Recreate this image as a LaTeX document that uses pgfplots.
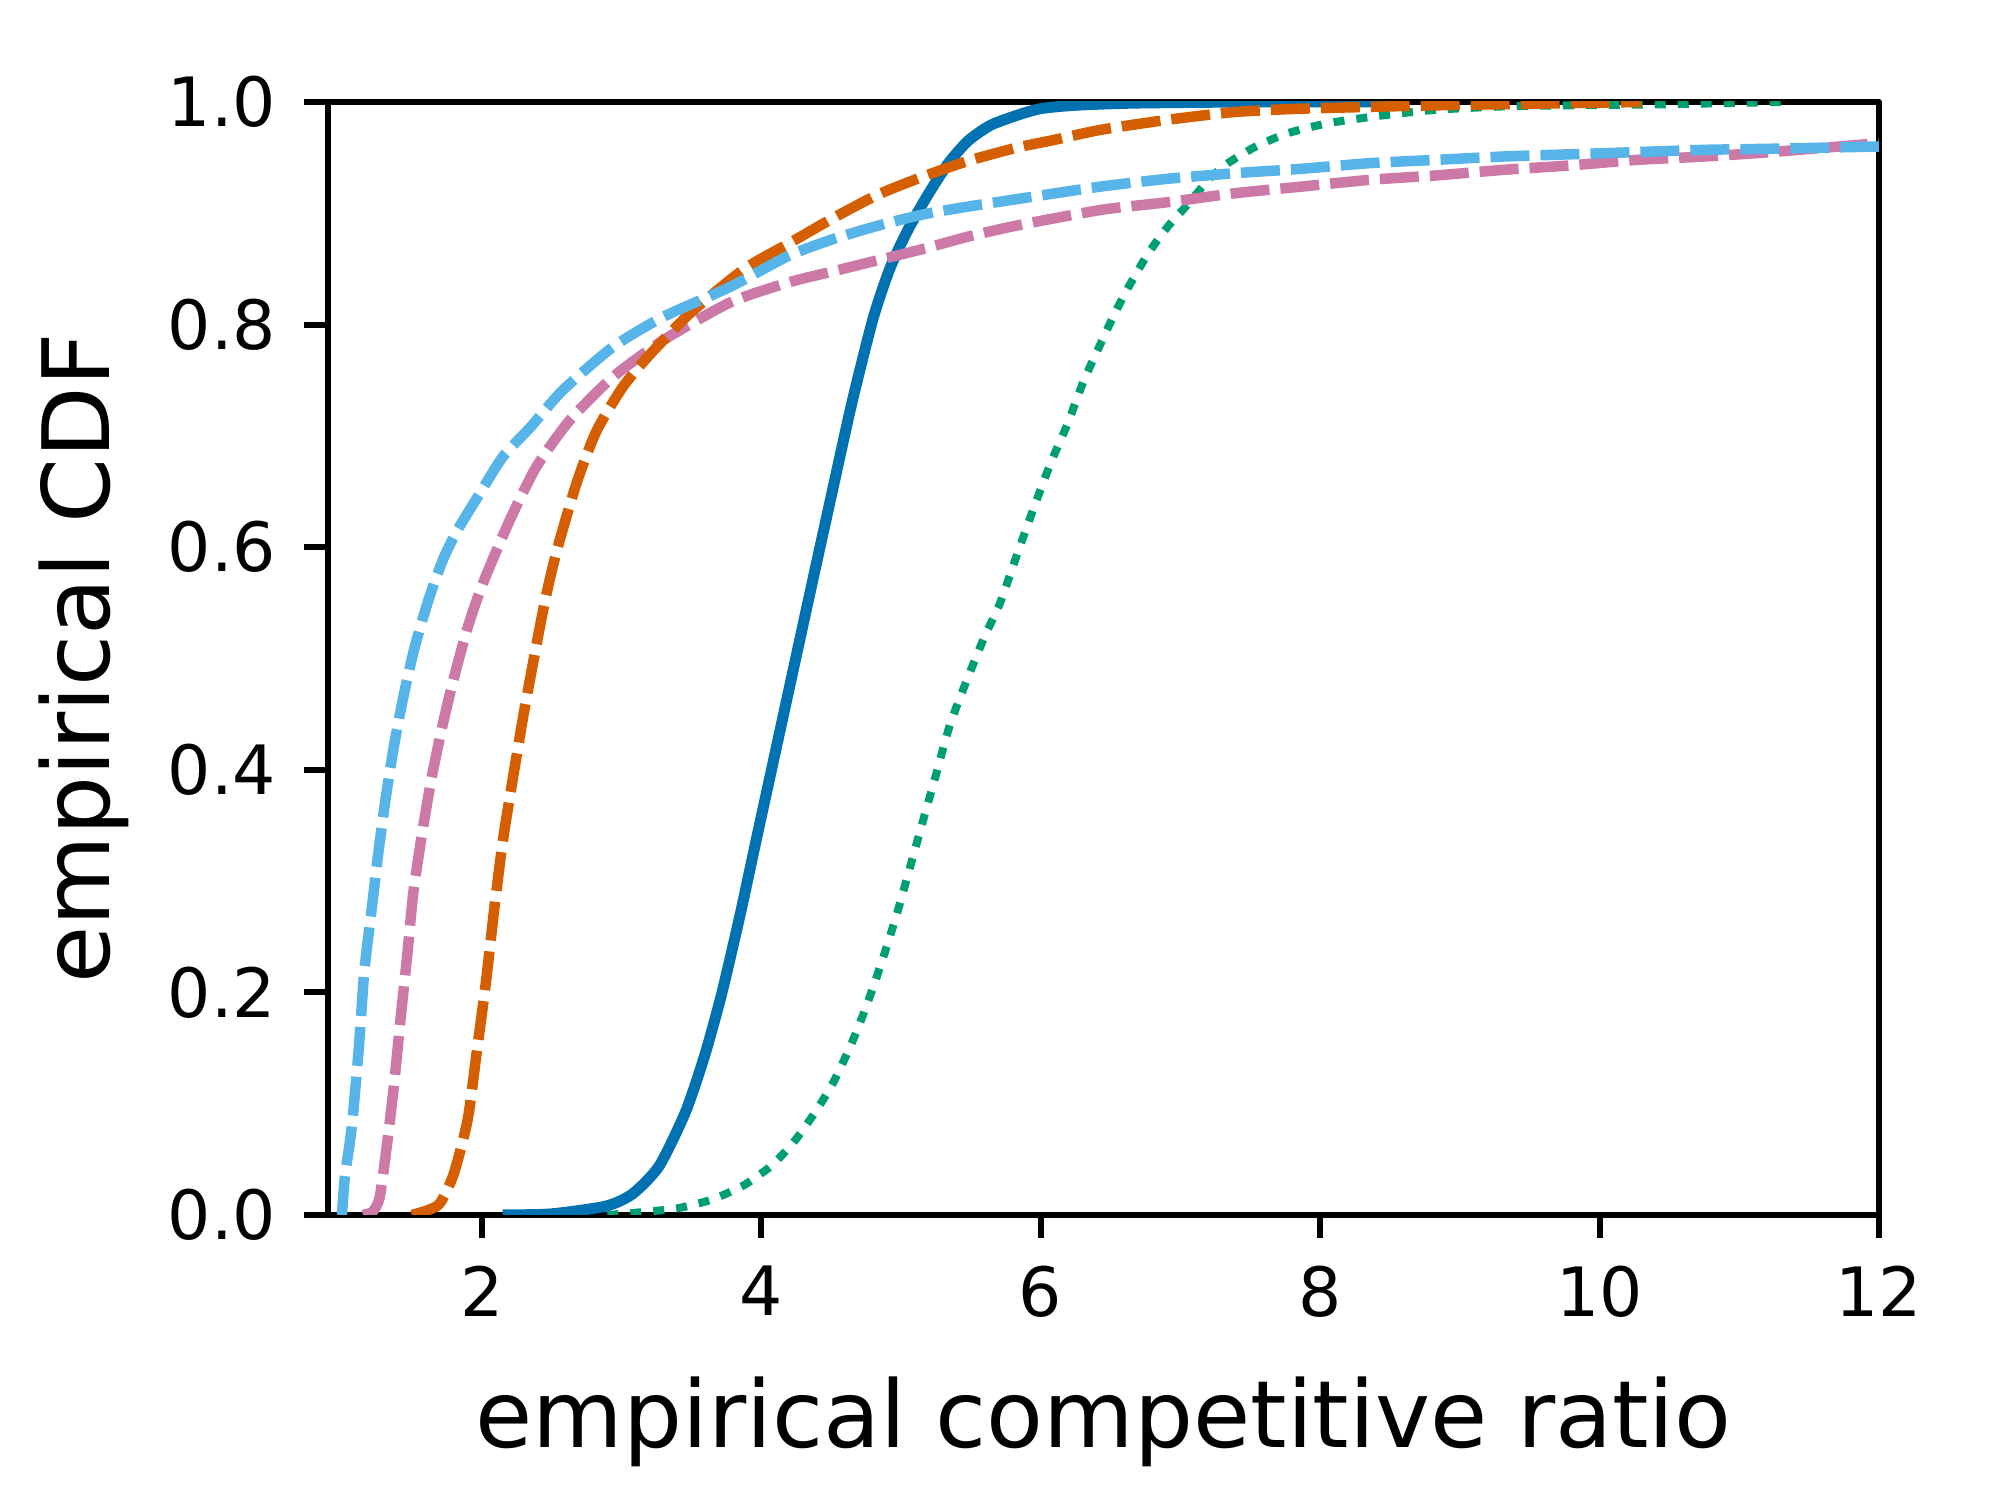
\documentclass[border=0pt]{standalone}
\usepackage{fontspec}
\setmainfont{DejaVu Sans}
\usepackage{pgfplots}
\pgfplotsset{compat=1.18}
\definecolor{cbblue}{HTML}{0072B2}
\definecolor{cborange}{HTML}{D55E00}
\definecolor{cbgreen}{HTML}{009E73}
\definecolor{cbsky}{HTML}{56B4E9}
\definecolor{cbpink}{HTML}{CC79A7}
\pgfplotsset{
  every axis y label/.style={at={(axis description cs:-0.1406,0.5)},rotate=90,anchor=base,inner sep=0pt,font=\fontsize{18.6}{22}\selectfont},
  every axis x label/.style={at={(axis description cs:0.5,-0.2093)},anchor=base,inner sep=0pt,font=\fontsize{18.6}{22}\selectfont},
}
\begin{document}
\begin{tikzpicture}
\begin{axis}[
  name=ax,
  scale only axis,
  width=310.2pt, height=222.6pt,
  xmin=0.9, xmax=12, ymin=0, ymax=1,
  xtick={2,4,6,8,10,12},
  ytick={0,0.2,0.4,0.6,0.8,1.0},
  xtick pos=bottom, ytick pos=left,
  tick align=outside,
  major tick length=4.7pt,
  every tick/.style={black, line width=1.2pt},
  axis line style={black, line width=1.2pt},
  /pgf/number format/assume math mode=true,
  yticklabel style={/pgf/number format/fixed,/pgf/number format/fixed zerofill,/pgf/number format/precision=1, anchor=east, inner sep=0pt, xshift=-5.5pt},
  ticklabel style={font=\fontsize{13.6}{16}\selectfont},
  xticklabel style={anchor=north, inner sep=0pt, yshift=-5.3pt},
  xlabel={empirical competitive ratio},
  ylabel={empirical CDF},
  line join=round,
]
% blue solid
\addplot[cbblue, line width=2.2pt, smooth, tension=0.4] coordinates {
(2.15,0) (2.5,0.001) (2.89,0.008) (3.08,0.019) (3.27,0.044) (3.46,0.093) (3.6,0.145) (3.72,0.2) (3.85,0.27) (3.97,0.34) (4.1,0.415) (4.23,0.49) (4.36,0.565) (4.5,0.645) (4.65,0.73) (4.8,0.805) (4.92,0.85) (5.05,0.885) (5.2,0.918) (5.34,0.945) (5.48,0.965) (5.64,0.979) (5.83,0.988) (6.0,0.994) (6.24,0.997) (6.67,0.999) (7.5,1.0) (8.5,1.0)
};
% green dotted
\addplot[cbgreen, line width=1.6pt, dash pattern=on 2.2pt off 2.4pt, smooth, tension=0.4] coordinates {
(2.9,0) (3.1,0.002) (3.4,0.006) (3.65,0.014) (3.88,0.027) (4.07,0.044) (4.23,0.065) (4.39,0.093) (4.52,0.12) (4.65,0.155) (4.76,0.19) (4.87,0.23) (4.97,0.27) (5.06,0.31) (5.16,0.355) (5.25,0.395) (5.35,0.44) (5.47,0.48) (5.6,0.52) (5.71,0.55) (5.85,0.6) (5.95,0.635) (6.07,0.675) (6.19,0.71) (6.31,0.75) (6.43,0.783) (6.53,0.81) (6.63,0.834) (6.77,0.864) (6.91,0.888) (7.06,0.909) (7.2,0.93) (7.34,0.945) (7.54,0.96) (7.77,0.972) (8.06,0.981) (8.45,0.988) (8.83,0.993) (9.31,0.996) (9.79,0.997) (10.5,0.998) (11.3,1.0)
};
% pink dashed
\addplot[cbpink, line width=2.1pt, dash pattern=on 7.8pt off 2.2pt, smooth, tension=0.4] coordinates {
(1.15,0) (1.22,0.003) (1.27,0.016) (1.32,0.061) (1.37,0.114) (1.42,0.177) (1.47,0.237) (1.51,0.289) (1.57,0.34) (1.64,0.392) (1.72,0.44) (1.8,0.482) (1.9,0.528) (2.01,0.568) (2.2,0.624) (2.39,0.672) (2.63,0.714) (2.94,0.753) (3.3,0.786) (3.78,0.82) (4.2,0.838) (4.52,0.848) (4.84,0.858) (5.16,0.868) (5.48,0.879) (5.83,0.889) (6.43,0.903) (6.91,0.91) (7.39,0.918) (7.87,0.924) (8.35,0.93) (8.83,0.934) (9.31,0.939) (9.79,0.943) (10.27,0.948) (10.75,0.951) (11.23,0.955) (12,0.963)
};
% orange dashed
\addplot[cborange, line width=2.1pt, dash pattern=on 7.8pt off 2.2pt, smooth, tension=0.4] coordinates {
(1.5,0) (1.69,0.009) (1.8,0.037) (1.9,0.086) (1.96,0.142) (2.03,0.209) (2.09,0.275) (2.15,0.335) (2.22,0.39) (2.3,0.45) (2.39,0.511) (2.46,0.556) (2.54,0.598) (2.68,0.658) (2.82,0.704) (3.01,0.744) (3.21,0.774) (3.49,0.81) (3.88,0.85) (4.2,0.873) (4.52,0.896) (4.84,0.917) (5.16,0.933) (5.48,0.947) (5.83,0.959) (6.1,0.966) (6.43,0.975) (6.91,0.984) (7.39,0.991) (7.87,0.994) (8.83,0.997) (9.79,0.999) (10.3,1.0)
};
% sky blue dashed
\addplot[cbsky, line width=2.1pt, dash pattern=on 7.8pt off 2.2pt, smooth, tension=0.4] coordinates {
(1.0,0) (1.02,0.033) (1.07,0.079) (1.12,0.149) (1.16,0.219) (1.21,0.272) (1.26,0.325) (1.31,0.372) (1.37,0.42) (1.44,0.466) (1.52,0.51) (1.62,0.553) (1.72,0.588) (1.82,0.614) (1.99,0.649) (2.15,0.681) (2.35,0.708) (2.58,0.741) (2.94,0.78) (3.3,0.807) (3.78,0.834) (4.2,0.862) (4.52,0.877) (4.84,0.889) (5.16,0.899) (5.48,0.906) (5.95,0.915) (6.43,0.924) (6.91,0.931) (7.39,0.936) (7.87,0.94) (8.35,0.945) (8.83,0.948) (9.31,0.951) (9.79,0.953) (10.27,0.955) (10.75,0.957) (11.23,0.958) (12,0.96)
};
\end{axis}
\pgfresetboundingbox
\path[use as bounding box] ([shift={(-65.6pt,-57pt)}]ax.south west) rectangle ([shift={(24.2pt,20.4pt)}]ax.north east);
\end{tikzpicture}
\end{document}
